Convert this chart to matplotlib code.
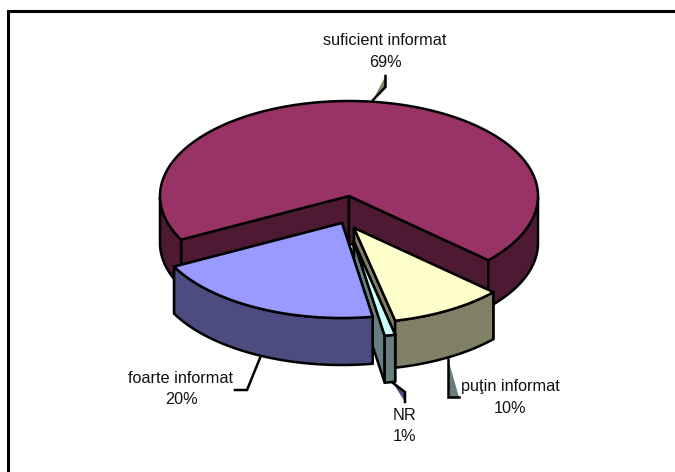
import numpy as np
import matplotlib
matplotlib.use("Agg")
import matplotlib.pyplot as plt

plt.rcParams['font.family'] = ['Liberation Sans', 'DejaVu Sans']

# values, in order round the pie (clockwise from the left side)
labels = ["suficient informat", "puţin informat", "NR", "foarte informat"]
percent_labels = ["69%", "10%", "1%", "20%"]
values = [69.4, 9.7, 0.9, 20.0]
top_colors = ["#993366", "#FFFFCC", "#CCFFFF", "#9999FF"]
side_colors = ["#4D1933", "#808066", "#668080", "#4C4C80"]

# layout in pixels
W, H = 675, 472
RX, RY = 189, 95
DEPTH = 47
START = 132.5 - values[0] * 3.6   # angle 0 = back of the pie, clockwise
tips = [(349, 196), (354, 228), (354, 242), (342, 223)]
LW = 1.8


def pos(tip, theta, drop=0):
    t = np.radians(theta)
    return tip[0] + RX * np.sin(t), tip[1] - RY * np.cos(t) + drop


fig = plt.figure(figsize=(W / 100, H / 100), dpi=100)
ax = fig.add_axes([0, 0, 1, 1])
ax.set_xlim(0, W)
ax.set_ylim(H, 0)
ax.axis('off')

# chart frame: only top and left lines are inside the picture
ax.plot([7.5, 7.5, W], [H, 11, 11], color='black', lw=2.2, solid_joinstyle='miter')

# start / end angle of each slice
edges = START + np.cumsum([0] + values) * 3.6
spans = list(zip(edges[:-1], edges[1:]))


def draw_slice(i):
    tip = tips[i]
    a0, a1 = spans[i]
    th = np.linspace(a0, a1, 300)
    tx, ty = pos(tip, th)
    bx, by = pos(tip, th, DEPTH)
    style = dict(fc=side_colors[i], ec='black', lw=LW, joinstyle='round')
    # radial walls first, the outer wall and top cover the hidden parts
    for x, y in [(tx[0], ty[0]), (tx[-1], ty[-1])]:
        ax.fill([tip[0], x, x, tip[0]], [tip[1], y, y + DEPTH, tip[1] + DEPTH], **style)
    # outer wall, only the part facing front
    front = np.cos(np.radians(th)) <= 0
    idx = np.where(front)[0]
    for g in np.split(idx, np.where(np.diff(idx) > 1)[0] + 1):
        if len(g) == 0:
            continue
        ax.fill(np.r_[tx[g], bx[g][::-1]], np.r_[ty[g], by[g][::-1]], **style)
    # top face
    ax.fill(np.r_[tip[0], tx], np.r_[tip[1], ty], fc=top_colors[i], ec='black',
            lw=LW, joinstyle='round')


for i in range(4):
    draw_slice(i)

# leader lines: shaded part then black line
leaders = [
    ([373, 385.5, 385.5], [100, 87, 76], "#808066"),
    ([448, 448, 459], [359, 397, 397], "#668080"),
    ([393, 405, 405], [383, 392, 402], "#4C4C80"),
    ([260, 247, 235], [358, 390, 390], None),
]
for xs, ys, shade in leaders:
    if shade:
        ax.fill(xs, ys, color=shade, lw=0)
    ax.plot(xs, ys, color='black', lw=LW, solid_joinstyle='miter')

# labels
label_pos = [(385, 51.5), (510, 397.5), (405, 426), (181, 389)]
for name, pct, (x, y) in zip(labels, percent_labels, label_pos):
    ax.text(x, y, f"{name}\n{pct}", ha='center', va='center', fontsize=11.7,
            color='#111111', linespacing=1.55)

fig.savefig("out.png", dpi=100)
